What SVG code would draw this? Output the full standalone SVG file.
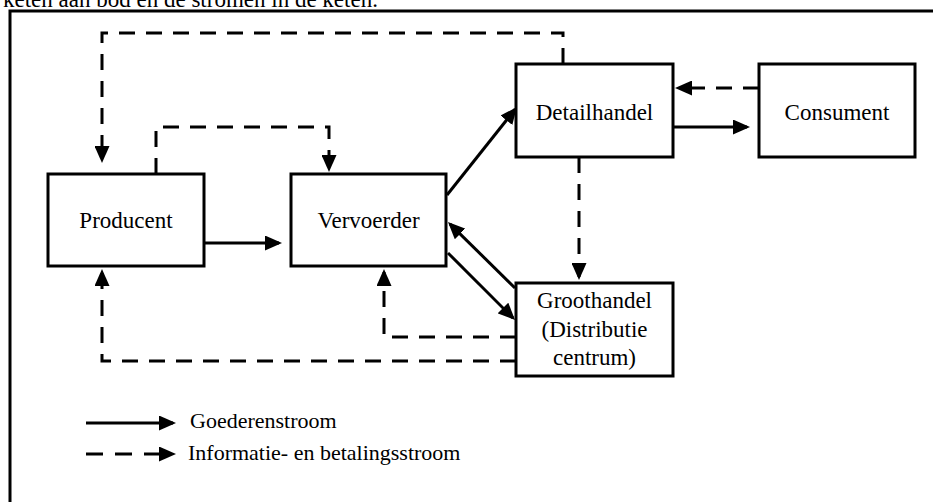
<svg xmlns="http://www.w3.org/2000/svg" width="933" height="502" viewBox="0 0 933 502">
  <style>
    .serif { font-family: 'Liberation Serif', 'Times New Roman', 'DejaVu Serif', serif; fill: #000000; }
    .box { fill: #ffffff; stroke: #000000; stroke-width: 3; }
    .label { font-size: 23px; text-anchor: middle; }
    .legend { font-size: 22px; }
    .flow { fill: none; stroke: #000000; stroke-width: 3; marker-end: url(#head); }
    .info { stroke-dasharray: 16 11; }
  </style>
  <defs>
    <marker id="head" viewBox="0 0 17 15" markerUnits="userSpaceOnUse" markerWidth="17" markerHeight="15" refX="14" refY="7.5" orient="auto">
      <path d="M0,0 L17,7.5 L0,15 z" fill="#000000"/>
    </marker>
  </defs>

  <rect width="933" height="502" fill="#ffffff"/>

  <!-- caption line running above the frame -->
  <text class="serif" x="3" y="7" font-size="23">keten aan bod en de stromen in de keten.</text>

  <!-- outer frame -->
  <rect x="10" y="11" width="960" height="520" fill="none" stroke="#000000" stroke-width="3"/>

  <!-- connectors -->
  <g id="connectors">
    <!-- goods flow -->
    <path class="flow" d="M204,243 H279"/>
    <path class="flow" d="M447,195 L515.1,109.3"/>
    <path class="flow" d="M673,127 H747"/>
    <path class="flow" d="M515,288 L450.1,224.1"/>
    <path class="flow" d="M448,253 L512.9,317.9"/>
    <!-- information and payment flow -->
    <path class="flow info" d="M563,64 V33 H102 V160"/>
    <path class="flow info" d="M156,174 V127 H329 V169"/>
    <path class="flow info" d="M759,88 H678"/>
    <path class="flow info" d="M579,157 V277"/>
    <path class="flow info" d="M516,337 H384 V272"/>
    <path class="flow info" d="M516,361 H102 V272"/>
  </g>

  <g id="producent">
    <rect class="box" x="48" y="174" width="156" height="92"/>
    <text class="serif label" x="126" y="228">Producent</text>
  </g>
  <g id="vervoerder">
    <rect class="box" x="291" y="174" width="155" height="92"/>
    <text class="serif label" x="368.5" y="228">Vervoerder</text>
  </g>
  <g id="detailhandel">
    <rect class="box" x="516" y="64" width="157" height="93"/>
    <text class="serif label" x="594.5" y="120">Detailhandel</text>
  </g>
  <g id="consument">
    <rect class="box" x="759" y="64" width="156" height="93"/>
    <text class="serif label" x="837" y="120">Consument</text>
  </g>
  <g id="groothandel">
    <rect class="box" x="516" y="283" width="157" height="93"/>
    <text class="serif label" x="594.5" y="308">Groothandel</text>
    <text class="serif label" x="594.5" y="337">(Distributie</text>
    <text class="serif label" x="594.5" y="365">centrum)</text>
  </g>

  <g id="legend">
    <path class="flow" d="M86,423 H173"/>
    <text class="serif legend" x="190" y="428">Goederenstroom</text>
    <path class="flow" d="M86,454 H173" stroke-dasharray="17 12"/>
    <text class="serif legend" x="188" y="460">Informatie- en betalingsstroom</text>
  </g>
</svg>
